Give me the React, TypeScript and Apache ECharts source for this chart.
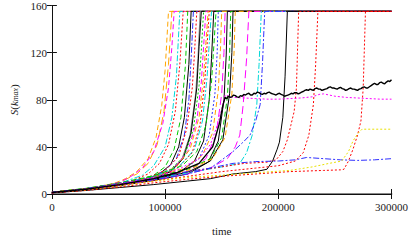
import React, { useEffect, useRef } from 'react';
import * as echarts from 'echarts';

// time in thousands, value S(k_max)
const r103 = [[0,1.2],[20,3],[40,6],[55,9],[65,13],[75,19],[85,30],[92,48],[97,75],[100,105],[103,155],[300,155]];
const r106 = [[0,1.5],[20,3.5],[40,6],[60,10],[75,17],[85,26],[93,42],[99,70],[103,110],[106,155],[300,155]];
const r108 = [[0,1],[20,3],[40,5.5],[60,10],[70,15],[80,22],[90,36],[98,60],[103,90],[106,125],[108,155],[300,155]];
const r113 = [[0,1.3],[20,3.2],[40,6],[60,9],[80,16],[90,24],[100,40],[106,65],[110,100],[113,155],[300,155]];
const r116 = [[0,1.4],[25,3.5],[50,7],[70,11],[85,17],[95,26],[103,42],[109,70],[113,110],[116,155],[300,155]];
const r120 = [[0,1],[25,3],[50,6.5],[70,10],[90,16],[100,23],[108,38],[114,65],[118,110],[120,155],[300,155]];
const r123 = [[0,1.2],[25,3.2],[50,6],[75,10],[95,17],[105,25],[112,40],[117,65],[121,110],[123,155],[300,155]];
const r125 = [[0,1.5],[30,4],[60,8],[85,13],[100,20],[110,30],[117,50],[121,80],[123,115],[125,155],[300,155]];
const r128 = [[0,1],[30,3.5],[60,8],[85,14],[100,20],[112,32],[119,55],[124,90],[126,120],[128,155],[300,155]];
const r131 = [[0,1.2],[30,4],[60,8.5],[90,14],[105,20],[115,30],[122,50],[127,85],[129,115],[131,155],[300,155]];
const r132 = [[0,1.3],[30,4.2],[60,8],[90,13],[105,19],[116,30],[123,52],[128,90],[130,125],[132,155],[300,155]];
const r134 = [[0,1.6],[30,4.5],[60,9],[90,15],[105,21],[117,32],[125,55],[130,92],[132,122],[134,155],[300,155]];
const r136 = [[0,1.1],[30,3.8],[60,8],[90,14],[108,22],[120,36],[128,62],[132,95],[134,125],[136,155],[300,155]];
const r138 = [[0,1.4],[30,4],[60,8.5],[90,14.5],[110,23],[122,38],[130,65],[134,100],[136,128],[138,155],[300,155]];
const r139 = [[0,1.2],[30,4.2],[60,8.6],[90,14],[110,21],[124,35],[131,60],[135,95],[137,125],[139,155],[300,155]];
const r141 = [[0,1.5],[30,4.5],[60,9.2],[90,15],[112,23],[126,38],[133,62],[137,98],[139,128],[141,155],[300,155]];
const r143 = [[0,1.1],[30,3.6],[60,7.4],[90,12],[112,18],[126,28],[134,45],[139,80],[141,115],[143,155],[300,155]];
const r145 = [[0,1.6],[30,4.8],[60,9.5],[90,15.5],[115,24],[128,36],[136,58],[141,95],[143,125],[145,155],[300,155]];
const r147 = [[0,1.3],[30,4],[60,8],[90,13],[115,20],[130,30],[139,50],[144,85],[146,120],[147,155],[300,155]];
const r150 = [[0,1.4],[30,4.3],[60,8.8],[90,14.2],[118,22],[133,33],[142,52],[147,88],[149,125],[150,155],[300,155]];
const r153 = [[0,1],[30,3.4],[60,7.6],[90,12.5],[120,19],[136,30],[145,50],[150,85],[152,120],[153,155],[300,155]];
const r155 = [[0,1.2],[30,3.7],[60,7.2],[90,11.5],[120,17],[138,27],[147,45],[152,80],[154,118],[155,155],[300,155]];
const r158 = [[0,1.5],[30,4.6],[60,9],[90,14.5],[120,21],[140,30],[150,48],[155,82],[157,120],[158,155],[300,155]];
const r160 = [[0,1.3],[30,3.9],[60,7.8],[90,12.5],[120,18.5],[140,28],[151,46],[157,85],[159,120],[160,155],[300,155]];
const r162 = [[0,1.6],[30,4.4],[60,8.4],[90,13.6],[120,20],[142,30],[153,48],[159,85],[161,122],[162,155],[300,155]];
const r174 = [[0,1.2],[30,3.5],[60,7.5],[90,12],[120,17],[140,22],[155,30],[162,40],[166,50],[169,76],[172,115],[174,155],[300,155]];
const r185 = [[0,1.3],[30,4],[60,8.5],[90,13],[120,18],[150,23],[166,26],[172,35],[177,50],[181,76],[183,110],[185,155],[300,155]];
const r188 = [[0,1.5],[30,4],[60,8],[90,12],[120,17],[140,22],[146,26],[160,36],[170,45],[175,50],[180,62],[184,76],[186,110],[188,155],[300,155]];
const r207 = [[0,1],[30,3],[60,5.5],[90,8],[120,11],[140,13],[160,17],[180,19],[190,21],[195,28],[199,38],[201,44],[204,65],[206,100],[208,155],[300,155]];
const r218 = [[0,1.5],[30,4.5],[60,9],[90,14],[120,19],[150,23],[170,26],[190,27],[198,29],[204,36],[208,46],[211,58],[214,70],[216,90],[218,155],[300,155]];
const r235 = [[0,1.3],[30,4],[60,7.5],[90,11],[120,15],[150,19],[180,22],[200,24],[215,28],[222,35],[227,50],[231,76],[233,110],[235,155],[300,155]];
const r277 = [[0,1],[30,3],[60,6],[90,9.5],[120,12.5],[150,15],[180,17],[210,19],[240,20],[255,20.5],[258,21],[262,28],[266,38],[270,50],[273,62],[275,90],[277,155],[300,155]];
const blueLow = [[0,1.5],[30,4.5],[60,9],[90,14],[120,19],[140,22],[160,26],[180,27.5],[200,28],[215,29],[225,31],[240,30],[255,29],[270,28.5],[285,29],[300,30]];
const yellowStep = [[0,1.2],[30,3.5],[60,7],[90,11],[120,14],[150,16],[180,18],[210,20],[230,23],[245,26],[256,28],[262,36],[266,45],[270,51],[274,55],[300,55]];
const magentaPlateau = [[0,1.2],[30,4],[60,8.5],[90,14],[110,20],[130,30],[140,42],[146,58],[150,72],[153,84],[160,82],[170,81.5],[180,81],[190,80.5],[200,80.5],[210,81],[220,81.5],[230,82.5],[236,84.5],[240,85],[245,84],[250,83],[260,82],[270,81.5],[280,81],[290,80.5],[300,80.5]];
const blackNoisy = [[0,1.3],[30,4],[60,8],[90,13],[110,18],[130,26],[142,40],[148,60],[151,75],[153,82],[154.5,81],[156,83],[157.5,82],[159,82.5],[160.5,84],[162,83.5],[163.5,82.5],[165,82],[166.5,83.5],[168,83],[169.5,84.5],[171,84],[172.5,85],[174,85.5],[175.5,84],[177,84],[178.5,85.5],[180,85],[181.5,86.5],[183,86],[184.5,85],[186,84.5],[187.5,85.5],[189,85],[190.5,86],[192,86.5],[193.5,85.5],[195,85],[196.5,84.5],[198,84],[199.5,85],[201,85.5],[202.5,84.5],[204,84],[205.5,83],[207,83.5],[208.5,84],[210,84.5],[211.5,85.5],[213,85],[214.5,86],[216,86],[217.5,85],[219,85.5],[220.5,86.5],[222,87],[223.5,88],[225,88.5],[226.5,88],[228,89],[229.5,88.5],[231,88],[232.5,89.5],[234,90],[235.5,89],[237,89],[238.5,88],[240,88.5],[241.5,89],[243,89.5],[244.5,90.5],[246,91],[247.5,90],[249,90],[250.5,89.5],[252,89],[253.5,90],[255,90.5],[256.5,89.5],[258,89],[259.5,88],[261,88.5],[262.5,89.5],[264,90],[265.5,89],[267,89],[268.5,88.5],[270,88],[271.5,89],[273,89.5],[274.5,90.5],[276,91],[277.5,90],[279,90],[280.5,91],[282,92],[283.5,93],[285,94],[286.5,93],[288,93],[289.5,94.5],[291,95],[292.5,94],[294,93.5],[295.5,95],[297,96],[298.5,95.5],[300,97]];

const xTickValues = [0, 100000, 200000, 300000];
const yTickValues = [0, 40, 80, 120, 160];

const RED = '#ff0000';
const GREEN = '#00c800';
const BLUE = '#3030ff';
const MAGENTA = '#ff00ff';
const CYAN = '#00d8d8';
const ORANGE = '#ffa500';
const YELLOW = '#e8e000';
const BLACK = '#000000';
const GRAY = '#808080';

const DASH: Record<string, any> = {
  solid: 'solid',
  dash: [5, 3],
  dot: [2, 2],
  dashdot: [6, 2, 2, 2],
  longdash: [8, 4],
};

const runs: [number[][], string, string][] = [
  [r103, ORANGE, 'dash'],
  [r106, ORANGE, 'longdash'],
  [r108, MAGENTA, 'dash'],
  [r113, CYAN, 'dashdot'],
  [r116, RED, 'dot'],
  [r120, GREEN, 'dash'],
  [r123, BLACK, 'solid'],
  [r125, BLUE, 'dashdot'],
  [r128, RED, 'dot'],
  [r131, GRAY, 'solid'],
  [r132, BLACK, 'solid'],
  [r134, GREEN, 'dot'],
  [r136, MAGENTA, 'dash'],
  [r138, ORANGE, 'dash'],
  [r139, RED, 'dot'],
  [r141, CYAN, 'dashdot'],
  [r143, BLACK, 'solid'],
  [r145, GREEN, 'dash'],
  [r147, BLUE, 'dot'],
  [r150, ORANGE, 'dash'],
  [r153, MAGENTA, 'longdash'],
  [r155, BLACK, 'solid'],
  [r158, GREEN, 'dash'],
  [r160, BLACK, 'solid'],
  [r162, ORANGE, 'dash'],
  [r174, MAGENTA, 'longdash'],
  [r185, CYAN, 'dashdot'],
  [r188, BLUE, 'dashdot'],
  [r207, BLACK, 'solid'],
  [r218, RED, 'dot'],
  [r235, RED, 'dot'],
  [r277, RED, 'dot'],
  [blueLow, BLUE, 'dashdot'],
  [yellowStep, YELLOW, 'dot'],
  [magentaPlateau, MAGENTA, 'dot'],
  [blackNoisy, BLACK, 'solid'],
];

const FONT = "'Liberation Serif', 'Times New Roman', serif";

export default function App() {
  const ref = useRef<HTMLDivElement>(null);
  useEffect(() => {
    if (!ref.current) return;
    const chart = echarts.init(ref.current, undefined, { renderer: 'svg' });
    const series = runs.map(([data, color, dash], i) => ({
      type: 'line',
      data: data.map(([t, v]) => [t * 1000, v]),
      showSymbol: false,
      symbol: 'none',
      silent: true,
      z: 2,
      lineStyle: { color, width: i === runs.length - 1 ? 1.4 : 1, type: DASH[dash] },
    }));
    const axisCommon = {
      type: 'value',
      axisLine: { show: true, lineStyle: { color: '#111', width: 1 } },
      axisTick: { show: true, inside: true, length: 5, lineStyle: { color: '#111' } },
      splitLine: { show: false },
    };
    chart.setOption({
      animation: false,
      grid: { left: 48, right: 17, top: 5, bottom: 36 },
      xAxis: [
        {
          ...axisCommon,
          position: 'bottom',
          min: xTickValues[0],
          max: xTickValues[xTickValues.length - 1],
          interval: 100000,
          axisLine: { show: true, lineStyle: { color: '#888', width: 2 } },
          axisLabel: { fontFamily: FONT, fontSize: 11, color: '#222', margin: 7, formatter: (v: number) => String(v) },
          name: 'time',
          nameLocation: 'middle',
          nameGap: 31,
          nameTextStyle: { fontFamily: FONT, fontSize: 11, color: '#222' },
        },
        {
          ...axisCommon,
          position: 'top',
          min: xTickValues[0],
          max: xTickValues[xTickValues.length - 1],
          interval: 100000,
          axisLabel: { show: false },
        },
      ],
      yAxis: [
        {
          ...axisCommon,
          position: 'left',
          min: yTickValues[0],
          max: yTickValues[yTickValues.length - 1],
          interval: 40,
          axisLabel: { fontFamily: FONT, fontSize: 11, color: '#222', margin: 5, formatter: (v: number) => String(v) },
          name: '{i|S}({i|k}{s|max})',
          nameLocation: 'middle',
          nameRotate: 90,
          nameGap: 32,
          nameTextStyle: {
            fontFamily: FONT,
            fontSize: 11,
            color: '#222',
            rich: {
              i: { fontFamily: FONT, fontSize: 11, fontStyle: 'italic', color: '#222' },
              s: { fontFamily: FONT, fontSize: 8, fontStyle: 'italic', color: '#222', verticalAlign: 'bottom', padding: [4, 0, 0, 0] },
            },
          },
        },
        {
          ...axisCommon,
          position: 'right',
          min: yTickValues[0],
          max: yTickValues[yTickValues.length - 1],
          interval: 40,
          axisLabel: { show: false },
        },
      ],
      series,
    });
    return () => chart.dispose();
  }, []);
  return <div ref={ref} style={{ width: 411, height: 241, position: 'absolute', left: 0, top: 0 }} />;
}
